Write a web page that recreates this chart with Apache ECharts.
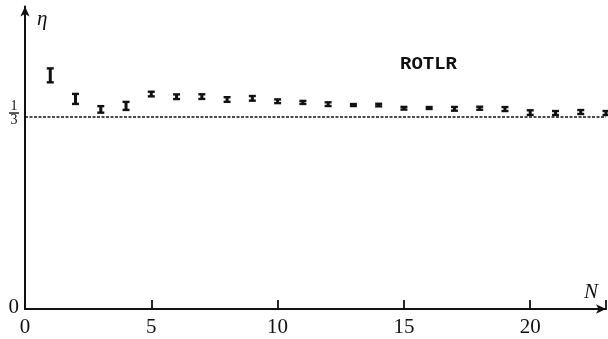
<!DOCTYPE html>
<html>
<head>
<meta charset="utf-8">
<script src="https://cdn.jsdelivr.net/npm/echarts@6/dist/echarts.min.js"></script>
<style>
  html, body { margin: 0; padding: 0; background: #fff; }
  #chart { width: 608px; height: 339px; }
</style>
</head>
<body>
<div id="chart"></div>
<script>
// Efficiency eta versus number of sites N, with error bars
const sizesN = [1, 2, 3, 4, 5, 6, 7, 8, 9, 10, 11, 12, 13, 14, 15, 16, 17, 18, 19, 20, 21, 22, 23];
const etaMean = [0.4015, 0.361, 0.343, 0.349, 0.3694, 0.3648, 0.365, 0.360, 0.362, 0.357, 0.355, 0.352,
                 0.3505, 0.3505, 0.345, 0.3454, 0.344, 0.345, 0.3436, 0.3375, 0.3368, 0.3385, 0.3368];
const etaErr = [0.012, 0.0086, 0.0056, 0.0069, 0.004, 0.004, 0.004, 0.004, 0.004, 0.0032, 0.0026, 0.0032,
                0.0017, 0.0022, 0.0023, 0.0017, 0.0032, 0.0026, 0.0034, 0.004, 0.0034, 0.0034, 0.0034];
const xLabelValues = [0, 5, 10, 15, 20];
const yLabelValues = [0, 1 / 3];
const refLevel = 1 / 3;
const seriesName = 'ROTLR';

const ink = '#111';
const serif = '"Liberation Serif", "DejaVu Serif", serif';

const chart = echarts.init(document.getElementById('chart'), null, { renderer: 'canvas' });

const data = sizesN.map((n, i) => [n, etaMean[i] - etaErr[i], etaMean[i] + etaErr[i]]);

chart.setOption({
  animation: false,
  backgroundColor: '#fff',
  title: {
    text: seriesName,
    left: 395,
    top: 50,
    textStyle: { fontFamily: '"Liberation Mono", "DejaVu Sans Mono", monospace', fontWeight: 'bold', fontSize: 19, color: ink }
  },
  grid: { left: 25, right: 2, top: 6.4, bottom: 30, containLabel: false },
  xAxis: {
    type: 'value',
    min: 0,
    max: 23,
    interval: 5,
    name: 'N',
    nameLocation: 'end',
    nameGap: -22,
    nameTextStyle: { fontFamily: serif, fontStyle: 'italic', fontSize: 21, color: ink, align: 'left', verticalAlign: 'bottom', padding: [0, 0, 6, 0] },
    axisLine: { show: true, symbol: ['none', 'arrow'], symbolSize: [7, 10], lineStyle: { color: ink, width: 2 } },
    // ticks follow the 5-unit interval, pointing up into the plot
    axisTick: { show: true, inside: true, length: 9, lineStyle: { color: ink, width: 1.8 } },
    axisLabel: { customValues: xLabelValues, showMinLabel: true, showMaxLabel: true, margin: 8, fontFamily: serif, fontSize: 21, color: ink },
    splitLine: { show: false }
  },
  yAxis: {
    type: 'value',
    min: 0,
    max: 0.52,
    name: 'η',
    nameLocation: 'end',
    nameGap: -24,
    nameTextStyle: { fontFamily: serif, fontStyle: 'italic', fontSize: 21, color: ink, align: 'left', padding: [0, 0, 0, 12] },
    axisLine: { show: true, symbol: ['none', 'arrow'], symbolSize: [7, 10], lineStyle: { color: ink, width: 2 } },
    axisTick: { show: false },
    axisLabel: {
      customValues: yLabelValues,
      margin: 6,
      fontFamily: serif,
      fontSize: 21,
      color: ink,
      formatter: (v) => (v === 0 ? '0' : '{n|1}\n{b| }\n{d|3}'),
      rich: {
        n: { fontFamily: serif, fontSize: 14, lineHeight: 10, color: ink, align: 'center' },
        b: { width: 10, height: 1.4, lineHeight: 3, fontSize: 1, backgroundColor: ink, align: 'center' },
        d: { fontFamily: serif, fontSize: 14, lineHeight: 11, color: ink, align: 'center' }
      },
      padding: [0, 0, 3, 0]
    },
    splitLine: { show: false }
  },
  series: [
    {
      name: seriesName,
      type: 'custom',
      data: data,
      encode: { x: 0, y: [1, 2] },
      renderItem: (params, api) => {
        const n = api.value(0);
        const top = api.coord([n, api.value(2)]);
        const bot = api.coord([n, api.value(1)]);
        const capW = 7;
        return {
          type: 'group',
          children: [
            { type: 'line', shape: { x1: top[0], y1: top[1], x2: bot[0], y2: bot[1] }, style: { stroke: ink, lineWidth: 3 } },
            { type: 'rect', shape: { x: top[0] - capW / 2, y: top[1] - 1.2, width: capW, height: 2.4 }, style: { fill: ink } },
            { type: 'rect', shape: { x: bot[0] - capW / 2, y: bot[1] - 1.2, width: capW, height: 2.4 }, style: { fill: ink } }
          ]
        };
      },
      markLine: {
        silent: true,
        symbol: ['none', 'none'],
        label: { show: false },
        lineStyle: { color: ink, width: 1.6, type: [3, 1.5] },
        data: [{ yAxis: refLevel }]
      },
      z: 3
    }
  ]
});
</script>
</body>
</html>
